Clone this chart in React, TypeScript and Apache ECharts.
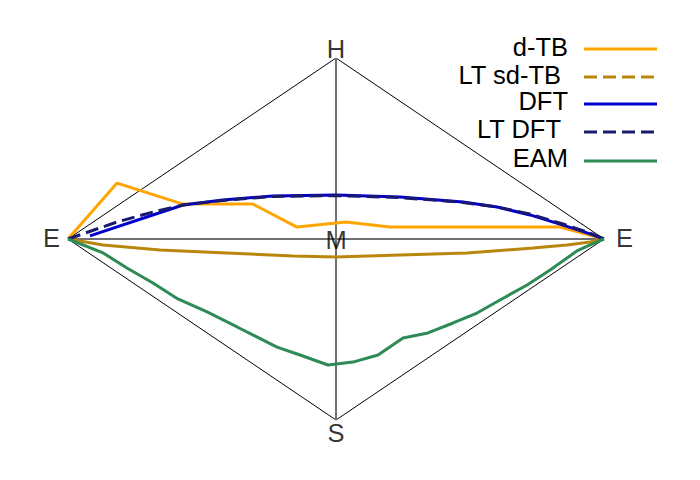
import React, { useEffect, useRef } from "react";
import * as echarts from "echarts";

const SERIES_NAMES = ["d-TB", "LT sd-TB", "DFT", "LT DFT", "EAM"];
const COLORS = ["#FFA500", "#B8860B", "#0000CD", "#191970", "#2E8B57"];
const DASHED = [false, false, false, true, false];
const LEGEND_DASHED = [false, true, false, true, false];

// normalized coordinates: x in [-1, 1] (E..E), y in [-1, 1] (S..H)
const D_TB = [
  [-1, 0], [-0.817, 0.309], [-0.571, 0.193], [-0.31, 0.193], [-0.146, 0.066],
  [0.037, 0.094], [0.201, 0.066], [0.836, 0.066], [1, 0],
];
const LT_SD_TB = [
  [-1, 0], [-0.869, -0.033], [-0.657, -0.061], [-0.407, -0.077], [-0.16, -0.094],
  [0, -0.099], [0.239, -0.088], [0.489, -0.077], [0.735, -0.05], [0.862, -0.033],
  [0.948, -0.017], [1, 0],
];
const DFT = [
  [-0.918, 0.017], [-0.571, 0.188], [-0.422, 0.215], [-0.235, 0.238], [0, 0.243],
  [0.239, 0.232], [0.474, 0.204], [0.601, 0.177], [0.724, 0.133], [0.847, 0.077],
  [0.948, 0.028], [1, 0],
];
const LT_DFT = [
  [-1, 0], [-0.817, 0.094], [-0.683, 0.149], [-0.571, 0.188], [-0.422, 0.213],
  [-0.235, 0.235], [0, 0.24], [0.239, 0.229], [0.474, 0.202], [0.601, 0.177],
  [0.724, 0.138], [0.847, 0.083], [0.948, 0.033], [1, 0],
];
const EAM = [
  [-1, 0], [-0.869, -0.077], [-0.78, -0.16], [-0.683, -0.243], [-0.59, -0.331],
  [-0.481, -0.403], [-0.369, -0.486], [-0.22, -0.597], [-0.134, -0.641], [-0.03, -0.696],
  [0.063, -0.68], [0.157, -0.641], [0.25, -0.547], [0.343, -0.519], [0.437, -0.464],
  [0.526, -0.409], [0.612, -0.337], [0.713, -0.254], [0.799, -0.171], [0.899, -0.066],
  [0.948, -0.033], [1, 0],
];
const SERIES_DATA = [D_TB, LT_SD_TB, DFT, LT_DFT, EAM];

const DIAMOND = [[-1, 0], [0, 1], [1, 0], [0, -1], [-1, 0]];
const H_LINE = [[-1, 0], [1, 0]];
const V_LINE = [[0, -1], [0, 1]];
const VERTEX_LABELS = [
  { name: "H", value: [0, 1], offset: [0, -9.5] },
  { name: "S", value: [0, -1], offset: [0, 12.5] },
  { name: "E", value: [-1, 0], offset: [-16.5, -1] },
  { name: "E", value: [1, 0], offset: [20.5, -1] },
  { name: "M", value: [0, 0], offset: [0, 1] },
];

const FONT = "Liberation Sans, Arial, sans-serif";
const FONT_SIZE = 25.5;

export default function App() {
  const ref = useRef<HTMLDivElement>(null);
  useEffect(() => {
    const chart = echarts.init(ref.current!, null, { renderer: "svg" });
    const frame = (data: number[][], color: string, width: number) => ({
      type: "line",
      data,
      showSymbol: false,
      silent: true,
      z: 1,
      lineStyle: { color, width },
    });
    const legendTextY = [46.5, 74.5, 101, 129, 157.5];
    const legendLineY = [49, 77, 104, 132, 161];
    const graphics: any[] = [];
    SERIES_NAMES.forEach((n, i) => {
      graphics.push({
        type: "text",
        x: i === 1 || i === 3 ? 561 : 568,
        y: legendTextY[i],
        style: {
          text: n,
          fontSize: FONT_SIZE,
          lineHeight: 22,
          fontFamily: FONT,
          fill: "#000",
          textAlign: "right",
          textVerticalAlign: "middle",
        },
      });
      graphics.push({
        type: "line",
        shape: { x1: 584, y1: legendLineY[i], x2: 657, y2: legendLineY[i] },
        style: {
          stroke: COLORS[i],
          lineWidth: 3,
          lineDash: LEGEND_DASHED[i] ? [13, 6] : null,
        },
      });
    });
    chart.setOption({
      animation: false,
      grid: { left: 68, right: 96, top: 58, bottom: 60 },
      xAxis: { type: "value", min: -1, max: 1, show: false },
      yAxis: { type: "value", min: -1, max: 1, show: false },
      series: [
        frame(DIAMOND, "#000000", 1),
        frame(H_LINE, "#707070", 2),
        frame(V_LINE, "#707070", 2),
        ...SERIES_NAMES.map((n, i) => ({
          type: "line",
          name: n,
          data: SERIES_DATA[i],
          showSymbol: false,
          z: 2 + i,
          lineStyle: {
            color: COLORS[i],
            width: 3,
            type: DASHED[i] ? [13, 6] : "solid",
          },
        })),
        {
          type: "scatter",
          symbolSize: 0,
          z: 10,
          data: VERTEX_LABELS.map((v) => ({
            name: v.name,
            value: v.value,
            label: { offset: v.offset },
          })),
          label: {
            show: true,
            position: "inside",
            formatter: "{b}",
            fontSize: FONT_SIZE,
            fontFamily: FONT,
            color: "#000",
            textBorderWidth: 0,
            verticalAlign: "middle",
            align: "center",
          },
        },
      ],
      graphic: graphics,
    });
    return () => chart.dispose();
  }, []);
  return (
    <div
      ref={ref}
      style={{ position: "absolute", left: 0, top: 0, width: 700, height: 480 }}
    />
  );
}
